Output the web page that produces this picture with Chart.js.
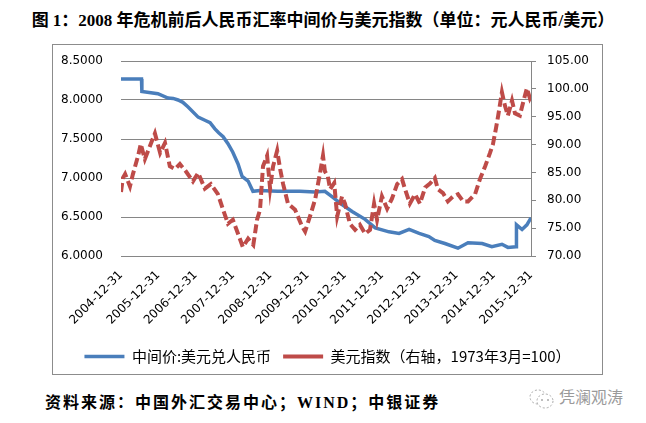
<!DOCTYPE html>
<html>
<head>
<meta charset="utf-8">
<script src="https://cdn.jsdelivr.net/npm/chart.js@4.4.0/dist/chart.umd.min.js"></script>
<style>
  body { margin: 0; width: 646px; height: 423px; background: #fff; position: relative; overflow: hidden; }
  #title { position: absolute; left: 0; top: 6px; width: 646px; text-align: center; white-space: nowrap;
           font: bold 17px "Liberation Serif", "Noto Sans CJK SC"; color: #000; }
  #box { position: absolute; left: 52px; top: 44px; width: 551px; height: 331px; border: 1px solid #8c8c8c; box-sizing: border-box; }
  #box canvas { display: block; }
  #source { position: absolute; left: 45px; top: 389px; white-space: nowrap; letter-spacing: 2px;
            font: bold 16px "Liberation Serif", "Noto Sans CJK SC"; color: #000; }
  #mark { position: absolute; left: 529px; top: 384px; white-space: nowrap; color: #9a9a9a;
          font: 16px "Noto Sans CJK SC"; }
  #mark svg { vertical-align: middle; margin-right: 4px; }
</style>
</head>
<body>
<div id="title">图 1：2008 年危机前后人民币汇率中间价与美元指数（单位：元人民币/美元）</div>
<div id="box"><canvas id="chart" width="549" height="329"></canvas></div>
<div id="source">资料来源：中国外汇交易中心；WIND；中银证券</div>
<div id="mark"><svg width="26" height="22" viewBox="0 0 26 22"><ellipse cx="9" cy="9" rx="8" ry="7" fill="none" stroke="#aaa" stroke-dasharray="2,2"/><ellipse cx="16" cy="13" rx="8" ry="7" fill="#fff" stroke="#aaa" stroke-dasharray="2,2"/><circle cx="13" cy="12" r="1" fill="#aaa"/><circle cx="19" cy="12" r="1" fill="#aaa"/></svg>凭澜观涛</div>

<script>
// x = years after 2004-12-31
const tickLabels = ['2004-12-31', '2005-12-31', '2006-12-31', '2007-12-31', '2008-12-31', '2009-12-31',
                    '2010-12-31', '2011-12-31', '2012-12-31', '2013-12-31', '2014-12-31', '2015-12-31'];

// 中间价: 美元兑人民币 (left axis)
const cnyX = [0, 0.55, 0.56, 0.99, 1.26, 1.40, 1.53, 1.66, 1.80, 2.07, 2.25, 2.39, 2.52, 2.62, 2.74, 2.87,
              3.00, 3.14, 3.25, 3.41, 3.54, 3.73, 4.20, 4.80, 5.20, 5.47, 5.66, 5.93, 6.20, 6.55, 6.82,
              7.19, 7.46, 7.73, 8.00, 8.26, 8.42, 8.69, 9.04, 9.31, 9.69, 9.95, 10.22, 10.38, 10.60,
              10.61, 10.66, 10.76, 10.89, 11];
const cnyY = [8.27, 8.27, 8.11, 8.08, 8.025, 8.02, 8.00, 7.97, 7.91, 7.78, 7.74, 7.71, 7.63, 7.58, 7.53, 7.44,
              7.33, 7.18, 7.02, 6.96, 6.83, 6.84, 6.83, 6.83, 6.82, 6.83, 6.76, 6.66, 6.57, 6.47, 6.36,
              6.31, 6.29, 6.34, 6.29, 6.25, 6.20, 6.16, 6.10, 6.17, 6.16, 6.12, 6.15, 6.11, 6.12,
              6.40, 6.38, 6.34, 6.40, 6.49];

// 美元指数 (right axis, 1973年3月=100)
const dxyX = [0, 0.05, 0.11, 0.24, 0.32, 0.46, 0.53, 0.64, 0.78, 0.91, 1.05, 1.18, 1.31, 1.45, 1.58, 1.74,
              1.93, 2.07, 2.25, 2.41, 2.60, 2.74, 2.87, 3.00, 3.14, 3.27, 3.41, 3.55, 3.65, 3.73, 3.81,
              3.92, 4.00, 4.08, 4.19, 4.27, 4.35, 4.48, 4.67, 4.86, 4.94, 5.07, 5.21, 5.34, 5.42, 5.47,
              5.55, 5.61, 5.72, 5.80, 5.93, 6.01, 6.14, 6.28, 6.41, 6.55, 6.68, 6.79, 6.87, 7.00, 7.14,
              7.27, 7.41, 7.54, 7.62, 7.75, 7.89, 8.02, 8.16, 8.29, 8.42, 8.50, 8.64, 8.77, 8.91, 9.04,
              9.18, 9.31, 9.50, 9.63, 9.77, 9.90, 9.98, 10.06, 10.12, 10.22, 10.30, 10.38, 10.49, 10.57,
              10.70, 10.79, 10.89, 10.97, 11];
const dxyY = [81.5, 84.0, 84.7, 82.5, 84.7, 88.0, 90.1, 87.4, 89.8, 92.0, 88.5, 90.3, 86.1, 85.6, 86.5, 85.2,
              83.4, 84.9, 82.1, 82.9, 81.1, 78.3, 75.8, 76.5, 74.0, 71.6, 73.1, 72.0, 76.5, 78.3, 86.1,
              88.0, 82.1, 86.1, 88.9, 85.6, 82.9, 79.4, 78.3, 75.3, 74.4, 77.1, 80.2, 84.9, 88.0, 85.2,
              84.3, 82.0, 83.1, 77.1, 80.7, 79.4, 75.8, 74.7, 75.6, 74.0, 74.7, 79.4, 76.5, 80.7, 78.5,
              80.3, 82.9, 83.8, 82.0, 79.4, 81.1, 79.4, 82.3, 83.0, 84.0, 82.0, 81.3, 79.8, 80.7, 81.1,
              79.8, 79.8, 81.1, 83.8, 86.1, 88.5, 90.1, 92.9, 95.2, 99.4, 97.0, 95.2, 97.9, 95.6,
              95.2, 97.6, 100.1, 98.3, 98.7];

const tickFont = { family: 'DejaVu Sans', size: 12 };
const gridColor = '#868686';

new Chart(document.getElementById('chart'), {
  type: 'line',
  data: {
    datasets: [
      {
        label: '中间价:美元兑人民币',
        data: cnyX.map((x, i) => ({ x: x, y: cnyY[i] })),
        yAxisID: 'yL',
        borderColor: '#4A7EBB',
        backgroundColor: '#4A7EBB',
        borderWidth: 3.5,
        pointRadius: 0,
        order: 1
      },
      {
        label: '美元指数（右轴，1973年3月=100）',
        data: dxyX.map((x, i) => ({ x: x, y: dxyY[i] })),
        yAxisID: 'yR',
        borderColor: '#BE4B48',
        backgroundColor: '#BE4B48',
        borderWidth: 4,
        borderDash: [9, 4],
        pointRadius: 0,
        order: 0
      }
    ]
  },
  options: {
    responsive: false,
    animation: false,
    layout: { padding: { top: 16, left: 0, right: 0, bottom: 0 } },
    scales: {
      x: {
        type: 'linear', min: 0, max: 11,
        ticks: {
          stepSize: 1, autoSkip: false, maxRotation: 45, minRotation: 45, padding: 4,
          font: tickFont, color: '#000',
          callback: v => tickLabels[v]
        },
        grid: { display: false },
        border: { display: false },
        afterFit: s => { s.height = 118 - s.chart.legend.height; }
      },
      yL: {
        position: 'left', min: 6, max: 8.5,
        ticks: { stepSize: 0.5, padding: 18, font: tickFont, color: '#000', callback: v => v.toFixed(4) },
        grid: { color: gridColor, drawTicks: false },
        border: { display: false },
        afterFit: s => { s.width = 68; s.paddingTop = 0; s.paddingBottom = 0; }
      },
      yR: {
        position: 'right', min: 70, max: 105,
        ticks: { stepSize: 5, padding: 11, font: tickFont, color: '#000', callback: v => v.toFixed(2) },
        grid: { drawOnChartArea: false, color: gridColor, tickLength: 5 },
        border: { display: true, color: gridColor },
        afterFit: s => { s.width = 71; s.paddingTop = 0; s.paddingBottom = 0; }
      }
    },
    plugins: {
      legend: {
        position: 'bottom',
        labels: {
          usePointStyle: true, pointStyle: 'line', pointStyleWidth: 40,
          font: { family: 'Noto Sans CJK SC', size: 15 }, color: '#000', padding: 12,
          sort: (a, b) => a.datasetIndex - b.datasetIndex
        }
      },
      tooltip: { enabled: false }
    }
  }
});
</script>
</body>
</html>
